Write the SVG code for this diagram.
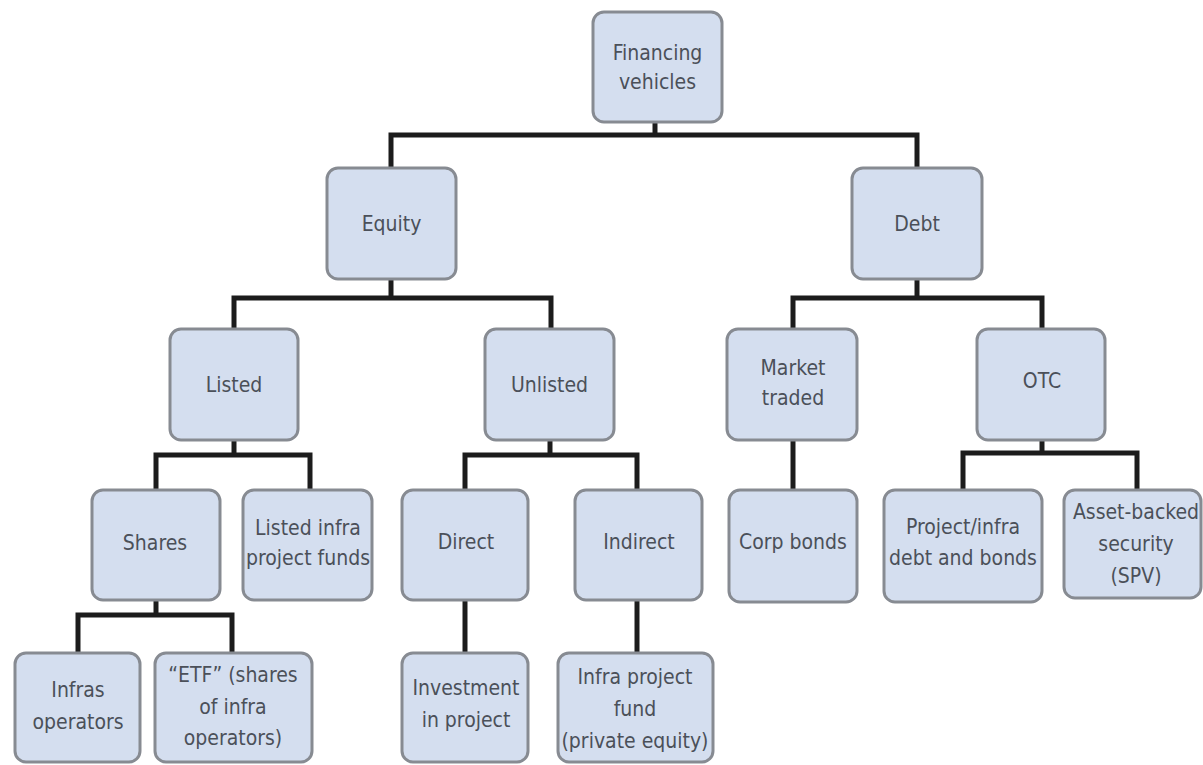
<svg xmlns="http://www.w3.org/2000/svg" width="1203" height="765" viewBox="0 0 1203 765">
<style>
.bg{fill:#ffffff}
.box{fill:#d4deef;stroke:#878b92;stroke-width:3}
.lbl{font-family:"DejaVu Sans Condensed","DejaVu Sans","Liberation Sans",sans-serif;font-stretch:condensed;font-size:21px;fill:#4b5059;text-anchor:middle}
.conn{fill:none;stroke:#1c1c1c;stroke-width:5;stroke-linejoin:miter;stroke-linecap:butt}
</style>
<rect class="bg" x="0" y="0" width="1203" height="765"/>
<g id="connectors">
<path class="conn" d="M655 122V135"/>
<path class="conn" d="M391 168V135H917V168"/>
<path class="conn" d="M391 279V298"/>
<path class="conn" d="M234 329V298H551V329"/>
<path class="conn" d="M917 279V298"/>
<path class="conn" d="M793 329V298H1042V329"/>
<path class="conn" d="M234 440V455"/>
<path class="conn" d="M156 490V455H310V490"/>
<path class="conn" d="M550 440V455"/>
<path class="conn" d="M465 490V455H637V490"/>
<path class="conn" d="M793 440V490"/>
<path class="conn" d="M1042 440V453"/>
<path class="conn" d="M963 490V453H1137V490"/>
<path class="conn" d="M156 600V615"/>
<path class="conn" d="M78 653V615H232V653"/>
<path class="conn" d="M465 600V653"/>
<path class="conn" d="M637 600V653"/>
</g>
<g id="n-root"><rect class="box" x="593" y="12" width="129" height="110" rx="11"/><text class="lbl" x="657.5" y="60">Financing</text><text class="lbl" x="657.5" y="89">vehicles</text></g>
<g id="n-equity"><rect class="box" x="327" y="168" width="129" height="111" rx="11"/><text class="lbl" x="391.5" y="231">Equity</text></g>
<g id="n-debt"><rect class="box" x="852" y="168" width="130" height="111" rx="11"/><text class="lbl" x="917" y="231">Debt</text></g>
<g id="n-listed"><rect class="box" x="170" y="329" width="128" height="111" rx="11"/><text class="lbl" x="234" y="392">Listed</text></g>
<g id="n-unlisted"><rect class="box" x="485" y="329" width="129" height="111" rx="11"/><text class="lbl" x="549.5" y="392">Unlisted</text></g>
<g id="n-market"><rect class="box" x="727" y="329" width="130" height="111" rx="11"/><text class="lbl" x="793" y="375">Market</text><text class="lbl" x="793" y="405">traded</text></g>
<g id="n-otc"><rect class="box" x="977" y="329" width="128" height="111" rx="11"/><text class="lbl" x="1042" y="388">OTC</text></g>
<g id="n-shares"><rect class="box" x="92" y="490" width="128" height="110" rx="11"/><text class="lbl" x="155" y="550">Shares</text></g>
<g id="n-listedfunds"><rect class="box" x="243" y="490" width="129" height="110" rx="11"/><text class="lbl" x="308" y="535">Listed infra</text><text class="lbl" x="308" y="565">project funds</text></g>
<g id="n-direct"><rect class="box" x="402" y="490" width="126" height="110" rx="11"/><text class="lbl" x="466" y="549">Direct</text></g>
<g id="n-indirect"><rect class="box" x="575" y="490" width="127" height="110" rx="11"/><text class="lbl" x="639" y="549">Indirect</text></g>
<g id="n-corp"><rect class="box" x="729" y="490" width="128" height="112" rx="11"/><text class="lbl" x="793" y="549">Corp bonds</text></g>
<g id="n-project"><rect class="box" x="884" y="490" width="158" height="112" rx="11"/><text class="lbl" x="963" y="534">Project/infra</text><text class="lbl" x="963" y="565">debt and bonds</text></g>
<g id="n-asset"><rect class="box" x="1064" y="490" width="137" height="108" rx="11"/><text class="lbl" x="1136" y="519">Asset-backed</text><text class="lbl" x="1136" y="551">security</text><text class="lbl" x="1136" y="583">(SPV)</text></g>
<g id="n-infras"><rect class="box" x="15" y="653" width="125" height="109" rx="11"/><text class="lbl" x="78" y="697">Infras</text><text class="lbl" x="78" y="729">operators</text></g>
<g id="n-etf"><rect class="box" x="155" y="653" width="157" height="109" rx="11"/><text class="lbl" x="233" y="682">“ETF” (shares</text><text class="lbl" x="233" y="714">of infra</text><text class="lbl" x="233" y="745">operators)</text></g>
<g id="n-investment"><rect class="box" x="402" y="653" width="126" height="109" rx="11"/><text class="lbl" x="466" y="695">Investment</text><text class="lbl" x="466" y="727">in project</text></g>
<g id="n-fund"><rect class="box" x="558" y="653" width="155" height="109" rx="11"/><text class="lbl" x="635" y="684">Infra project</text><text class="lbl" x="635" y="716">fund</text><text class="lbl" x="635" y="748">(private equity)</text></g>
</svg>
